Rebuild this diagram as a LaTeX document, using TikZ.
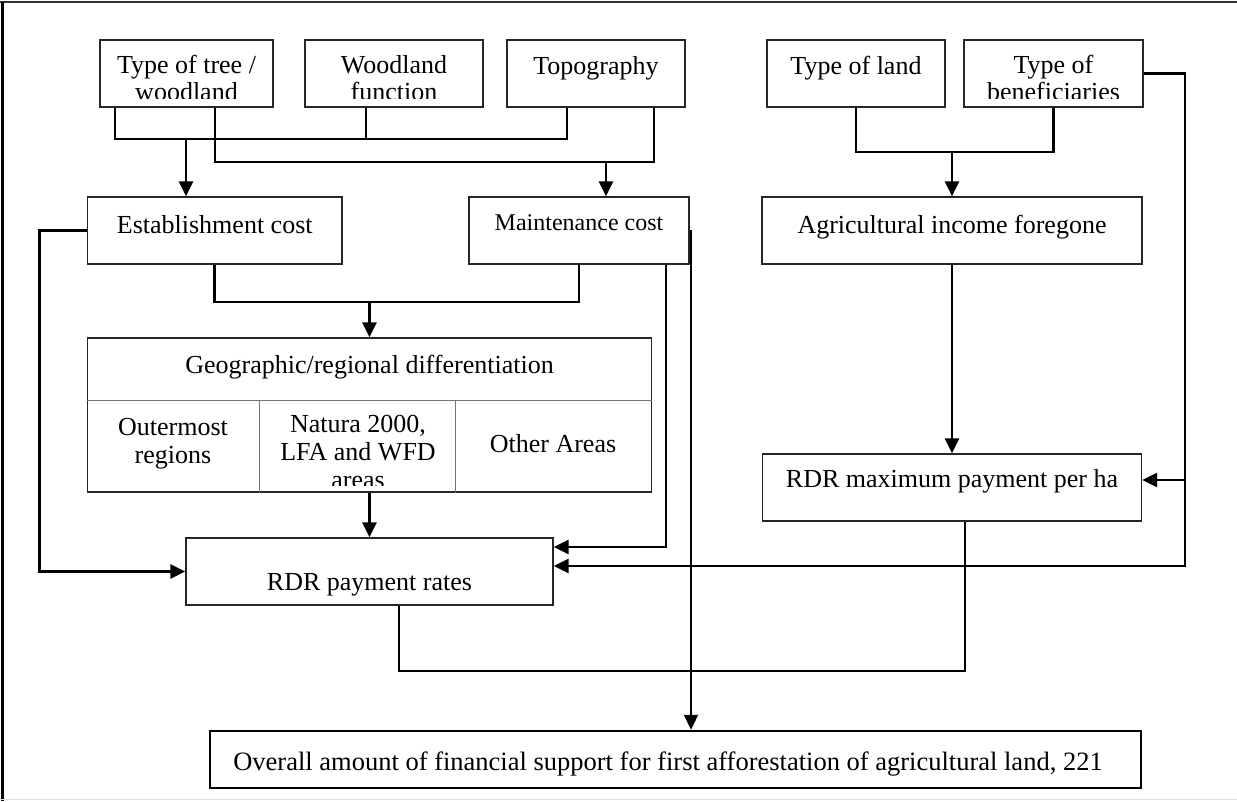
\documentclass[tikz,border=0pt]{standalone}
\usepackage{fontspec}
\setmainfont{Liberation Serif}
\usetikzlibrary{arrows.meta}
\begin{document}
\begin{tikzpicture}[x=1pt,y=-1pt,
  box/.style={draw=black!85, line width=1.3pt, inner sep=0pt},
  lbl/.style={anchor=base, inner sep=0pt, font=\fontsize{26}{27}\selectfont},
  conn/.style={line width=2.6pt},
  thinconn/.style={line width=1.1pt},
  arr/.style={conn, -{Triangle[length=15pt,width=14pt]}},
  divider/.style={draw=black!55, line width=0.9pt},
]
\useasboundingbox (0,0) rectangle (1237,801);
% frame
\draw[black!80, line width=1.6pt] (0,2) -- (1237,2);
\draw[black, line width=2.4pt] (2.5,2) -- (2.5,801);
\draw[black!12, line width=1.6pt] (0,799.5) -- (1237,799.5);

% boxes
\node[box, minimum width=173pt, minimum height=67pt] (tree)   at (186.5,73.5) {};
\node[box, minimum width=178pt, minimum height=67pt] (func)   at (394,73.5) {};
\node[box, minimum width=178pt, minimum height=67pt] (topo)   at (596,73.5) {};
\node[box, minimum width=178pt, minimum height=67pt] (land)   at (856,73.5) {};
\node[box, minimum width=179pt, minimum height=67pt] (benef)  at (1053.5,73.5) {};
\node[box, minimum width=254.5pt, minimum height=67pt] (estab) at (214.75,230.5) {};
\node[box, minimum width=220pt, minimum height=67pt] (maint)  at (579,230.5) {};
\node[box, minimum width=380pt, minimum height=67pt] (agri)   at (952,230.5) {};
\node[box, minimum width=563.5pt, minimum height=154pt] (geo) at (369.5,415) {};
\node[box, minimum width=379pt, minimum height=67pt] (rdrmax) at (952,487.5) {};
\node[box, minimum width=367pt, minimum height=67pt] (rates)  at (369.5,571.5) {};
\node[draw=black, line width=2.4pt, inner sep=0pt, minimum width=931pt, minimum height=57pt] (overall) at (675.5,759.5) {};

% geographic subdivisions
\coordinate (m1) at (0,400);
\coordinate (m2) at (259,400);
\coordinate (m3) at (455,400);
\draw[divider] (geo.west |- m1) -- (geo.east |- m1);
\draw[divider] (m2) -- (m2 |- geo.south);
\draw[divider] (m3) -- (m3 |- geo.south);

% labels
\node[lbl] (t1) at (186.5,73) {Type of tree /};
\begin{scope}
\clip (tree.north west) rectangle ([yshift=9pt]tree.south east);
\node[lbl] (t1b) at (186.5,100) {woodland};
\end{scope}
\node[lbl] (t2) at (394,73) {Woodland};
\begin{scope}
\clip (func.north west) rectangle ([yshift=9pt]func.south east);
\node[lbl] (t2b) at (394,100) {function};
\end{scope}
\node[lbl] (t3) at (596,74) {Topography};
\node[lbl] (t4) at (856,74) {Type of land};
\node[lbl] (t5) at (1053.5,73) {Type of};
\begin{scope}
\clip (benef.north west) rectangle ([yshift=9pt]benef.south east);
\node[lbl] (t5b) at (1053.5,100) {beneficiaries};
\end{scope}
\node[lbl] (t6) at (214.75,233) {Establishment cost};
\node[lbl, font=\fontsize{24}{27}\selectfont] (t7) at (579,230) {Maintenance cost};
\node[lbl] (t8) at (952,233) {Agricultural income foregone};
\node[lbl] (t9) at (369.5,373) {Geographic/regional differentiation};
\node[lbl] (t10) at (173,435) {Outermost};
\node[lbl] (t10b) at (173,463) {regions};
\node[lbl] (t11) at (358,432) {Natura 2000,};
\node[lbl] (t11b) at (358,460) {LFA and WFD};
\begin{scope}
\clip (geo.north west) rectangle ([yshift=7pt]geo.south east);
\node[lbl] (t11c) at (358,488) {areas};
\end{scope}
\node[lbl] (t12) at (553,452) {Other Areas};
\node[lbl] (t13) at (952,487) {RDR maximum payment per ha};
\node[lbl] (t14) at (369.5,590) {RDR payment rates};
\node[lbl, font=\fontsize{26.5}{27}\selectfont] (t15) at (668,770) {Overall amount of financial support for first afforestation of agricultural land, 221};

% connectors: top-left group
\coordinate (c1) at (115,139);
\coordinate (c2) at (366,139);
\coordinate (c3) at (567,139);
\coordinate (c4) at (186,139);
\draw[conn] (tree.south -| c1) -- (c1) -- (c3) -- (topo.south -| c3);
\draw[conn] (func.south -| c2) -- (c2);
\draw[arr] (c4) -- (estab.north -| c4);

\coordinate (c5) at (215,162);
\coordinate (c6) at (654,162);
\coordinate (c7) at (606,162);
\draw[conn] (tree.south -| c5) -- (c5) -- (c6) -- (topo.south -| c6);
\draw[arr] (c7) -- (maint.north -| c7);

% top-right group
\coordinate (c8) at (0,152);
\draw[conn] (land.south) -- (land.south |- c8) -- (benef.south |- c8) -- (benef.south);
\draw[arr] (agri.north |- c8) -- (agri.north);

% costs to geographic
\coordinate (d1) at (0,302);
\draw[conn] (estab.south) -- (estab.south |- d1) -- (maint.south |- d1) -- (maint.south);
\draw[arr] (geo.north |- d1) -- (geo.north);
\draw[arr] (geo.south) -- (geo.south |- rates.north);

% establishment to rates
\coordinate (e1) at (39.5,0);
\draw[arr] (estab.west) -- (estab.west -| e1) |- (rates.west);

% maintenance to rates
\coordinate (f1) at (666,547);
\draw[arr] (maint.south -| f1) -- (f1) -- (rates.east |- f1);

% maintenance thin line to overall
\coordinate (g1) at (691,671);
\draw[thinconn] (maint.east) -| (g1);
\draw[conn, line width=2pt, -{Triangle[length=15pt,width=14pt]}] (g1) -- (overall.north -| g1);

% rates and rdrmax merge
\coordinate (h1) at (399,671);
\coordinate (h2) at (965,671);
\draw[conn] (rates.south -| h1) -- (h1) -- (h2) -- (rdrmax.south -| h2);

% agricultural to rdrmax
\draw[arr] (agri.south) -- (agri.south |- rdrmax.north);

% beneficiaries right loop
\coordinate (k1) at (1185,566);
\coordinate (k3) at (1185,480);
\draw[arr] (benef.east) -| (k1) -- (rates.east |- k1);
\draw[arr] (k3) -- (rdrmax.east |- k3);
\end{tikzpicture}
\end{document}
